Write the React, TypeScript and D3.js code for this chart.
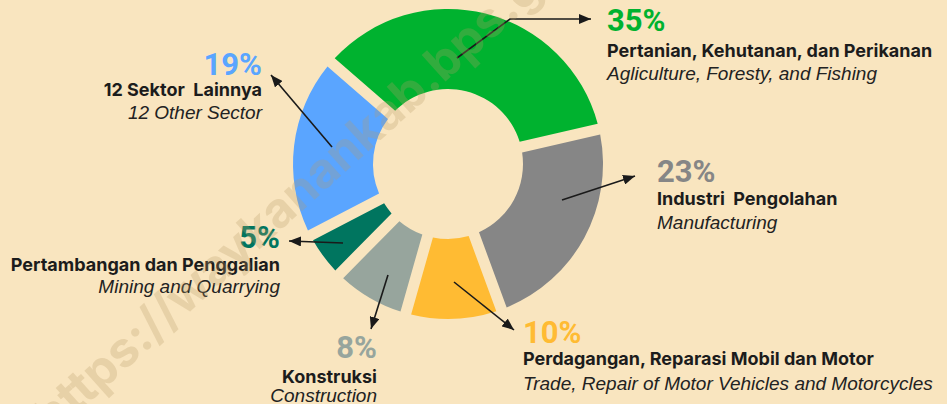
import React from "react";
import * as d3 from "d3";

const W = 947;
const H = 404;

// ---- data ----
const sectorsId = [
  "Pertanian, Kehutanan, dan Perikanan",
  "Industri  Pengolahan",
  "Perdagangan, Reparasi Mobil dan Motor",
  "Konstruksi",
  "Pertambangan dan Penggalian",
  "12 Sektor  Lainnya",
];
const sectorsEn = [
  "Agliculture, Foresty, and Fishing",
  "Manufacturing",
  "Trade, Repair of Motor Vehicles and Motorcycles",
  "Construction",
  "Mining and Quarrying",
  "12 Other Sector",
];
const shares = [35, 23, 10, 8, 5, 19];
const pctLabels = ["35%", "23%", "10%", "8%", "5%", "19%"];
const colors = ["#00B22F", "#868686", "#FFBB33", "#97A59D", "#00755F", "#5AA5FF"];
const watermark = "https://waykanankab.bps.go.id";

// ---- layout (annotations) ----
const CX = 448;
const CY = 164;
const R_OUT = 155;
const R_IN = 75;
const START = (-49 * Math.PI) / 180;

type Anno = { path: [number, number][]; x: number; anchor: "start" | "end"; y: [number, number, number] };
const annos: Anno[] = [
  { path: [[457, 58], [510, 19], [591, 19]], x: 607, anchor: "start", y: [31, 57, 80] },
  { path: [[562, 200], [635, 176]], x: 657, anchor: "start", y: [182, 205, 229] },
  { path: [[454, 282], [514, 330]], x: 523, anchor: "start", y: [343, 365, 390] },
  { path: [[388, 275], [371, 329]], x: 377, anchor: "end", y: [358, 383, 402] },
  { path: [[343, 243], [289, 241]], x: 280, anchor: "end", y: [248, 271, 293] },
  { path: [[332, 147], [271, 75]], x: 262, anchor: "end", y: [75, 96, 119] },
];

const PCT_FONT = "Roboto, 'Noto Sans', sans-serif";
const BOLD_FONT = "Inter, 'Noto Sans', sans-serif";
const ITALIC_FONT = "'Liberation Sans', Arial, sans-serif";

export default function App() {
  const pie = d3
    .pie<number>()
    .sort(null)
    .value((d) => d)
    .startAngle(START)
    .endAngle(START + 2 * Math.PI);
  const arcs = pie(shares);
  const arc = d3
    .arc<d3.PieArcDatum<number>>()
    .innerRadius(R_IN)
    .outerRadius(R_OUT)
    .padAngle(0.064);
  const line = d3.line();

  return (
    <div style={{ position: "fixed", left: 0, top: 0, width: W, height: H }}>
      <svg width={W} height={H} style={{ display: "block" }}>
        <defs>
          <marker
            id="arrow"
            viewBox="0 0 12 10"
            refX={12}
            refY={5}
            markerWidth={12}
            markerHeight={10}
            markerUnits="userSpaceOnUse"
            orient="auto"
          >
            <path d="M0,0 L12,5 L0,10 Z" fill="#1a1a1a" />
          </marker>
        </defs>
        <rect width={W} height={H} fill="#F9E5BF" />
        <g transform={`translate(${CX},${CY})`}>
          {arcs.map((a, i) => (
            <path key={i} d={arc(a) || ""} fill={colors[i]} />
          ))}
        </g>
        {annos.map((an, i) => (
          <path
            key={"l" + i}
            d={line(an.path) || ""}
            fill="none"
            stroke="#1a1a1a"
            strokeWidth={1.6}
            markerEnd="url(#arrow)"
          />
        ))}
        {annos.map((an, i) => (
          <g key={"t" + i} textAnchor={an.anchor}>
            <text x={an.x} y={an.y[0]} fontFamily={PCT_FONT} fontWeight={700} fontSize={31} fill={colors[i]}>
              {pctLabels[i]}
            </text>
            <text
              x={an.x}
              y={an.y[1]}
              fontFamily={BOLD_FONT}
              fontWeight={700}
              fontSize={18}
              fill="#1c1c1c"
              style={{ whiteSpace: "pre" }}
            >
              {sectorsId[i]}
            </text>
            <text x={an.x} y={an.y[2]} fontFamily={ITALIC_FONT} fontStyle="italic" fontSize={19} fill="#222">
              {sectorsEn[i]}
            </text>
          </g>
        ))}
        <text
          transform="translate(52,436) rotate(-42)"
          fontFamily={BOLD_FONT}
          fontWeight={700}
          fontSize={49}
          fill="#B89B68"
          fillOpacity={0.27}
        >
          {watermark}
        </text>
      </svg>
    </div>
  );
}
